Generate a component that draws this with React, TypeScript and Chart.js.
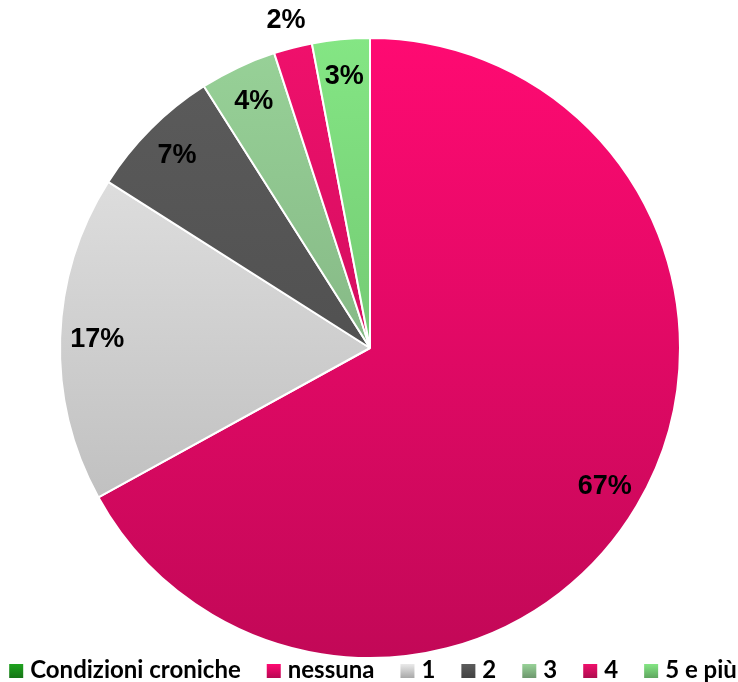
import React, { useEffect, useRef } from "react";
import { Chart, registerables } from "chart.js";

Chart.register(...registerables);

const seriesName = "Condizioni croniche";
const categories = ["nessuna", "1", "2", "3", "4", "5 e più"];
const values = [67, 17, 7, 4, 2, 3];
const colors = ["#FF0A72", "#EAEAEA", "#5C5C5C", "#98D298", "#F0106C", "#84E684"];
const seriesColor = "#1FA31F";

function shade(hex: string, f: number) {
  const n = parseInt(hex.slice(1), 16);
  const r = Math.round(((n >> 16) & 255) * f);
  const g = Math.round(((n >> 8) & 255) * f);
  const b = Math.round((n & 255) * f);
  return `rgb(${r},${g},${b})`;
}

const labelPlugin = {
  id: "sliceLabels",
  afterDatasetsDraw(chart: any) {
    const ctx = chart.ctx;
    const meta = chart.getDatasetMeta(0);
    const total = values.reduce((a, b) => a + b, 0);
    ctx.save();
    ctx.font = "bold 27px 'Liberation Sans', Arial, sans-serif";
    ctx.fillStyle = "#000";
    ctx.textAlign = "center";
    ctx.textBaseline = "middle";
    meta.data.forEach((arc: any, i: number) => {
      const p = arc.getProps(["x", "y", "startAngle", "endAngle", "outerRadius"], true);
      const mid = (p.startAngle + p.endAngle) / 2;
      const pct = (values[i] / total) * 100;
      const f = pct < 2.5 ? 1.09 : 0.88;
      const x = p.x + Math.cos(mid) * p.outerRadius * f;
      const y = p.y + Math.sin(mid) * p.outerRadius * f;
      ctx.fillText(Math.round(pct) + "%", x, y);
    });
    ctx.restore();
  },
};

const legendPlugin = {
  id: "customLegend",
  afterDraw(chart: any) {
    const ctx = chart.ctx;
    const items = [{ text: seriesName, color: seriesColor }, ...categories.map((c, i) => ({ text: c, color: colors[i] }))];
    ctx.save();
    ctx.font = "bold 24px Lato, 'Liberation Sans', sans-serif";
    ctx.textBaseline = "alphabetic";
    ctx.textAlign = "left";
    const box = 14;
    const boxGap = 7;
    const gap = 26;
    const widths = items.map((it) => box + boxGap + ctx.measureText(it.text).width);
    const total = widths.reduce((a, b) => a + b, 0) + gap * (items.length - 1);
    let x = 373 - total / 2;
    const baseline = chart.height - 4;
    items.forEach((it, i) => {
      const top = baseline - box;
      const g = ctx.createLinearGradient(0, top, 0, top + box);
      g.addColorStop(0, it.color);
      g.addColorStop(1, shade(it.color, 0.72));
      ctx.fillStyle = g;
      ctx.fillRect(x, top, box, box);
      ctx.fillStyle = "#000";
      ctx.fillText(it.text, x + box + boxGap, baseline);
      x += widths[i] + gap;
    });
    ctx.restore();
  },
};

export default function App() {
  const ref = useRef<HTMLCanvasElement>(null);
  useEffect(() => {
    const chart = new Chart(ref.current!, {
      type: "pie",
      data: {
        labels: categories,
        datasets: [
          {
            label: seriesName,
            data: values,
            backgroundColor: (c: any) => {
              const area = c.chart.chartArea;
              const base = colors[c.dataIndex];
              if (!area) return base;
              const g = c.chart.ctx.createLinearGradient(0, area.top, 0, area.bottom);
              g.addColorStop(0, base);
              g.addColorStop(1, shade(base, 0.76));
              return g;
            },
            borderColor: "#FFFFFF",
            borderWidth: 2,
          } as any,
        ],
      },
      options: {
        animation: false,
        responsive: false,
        layout: { padding: { top: 37, left: 59, right: 57, bottom: 23 } },
        plugins: {
          tooltip: { enabled: false },
          legend: { display: false },
        },
      },
      plugins: [labelPlugin, legendPlugin],
    });
    return () => chart.destroy();
  }, []);
  return (
    <div style={{ position: "fixed", left: 0, top: 0, width: 738, height: 682, background: "#fff" }}>
      <canvas ref={ref} width={738} height={682} style={{ display: "block" }} />
    </div>
  );
}
